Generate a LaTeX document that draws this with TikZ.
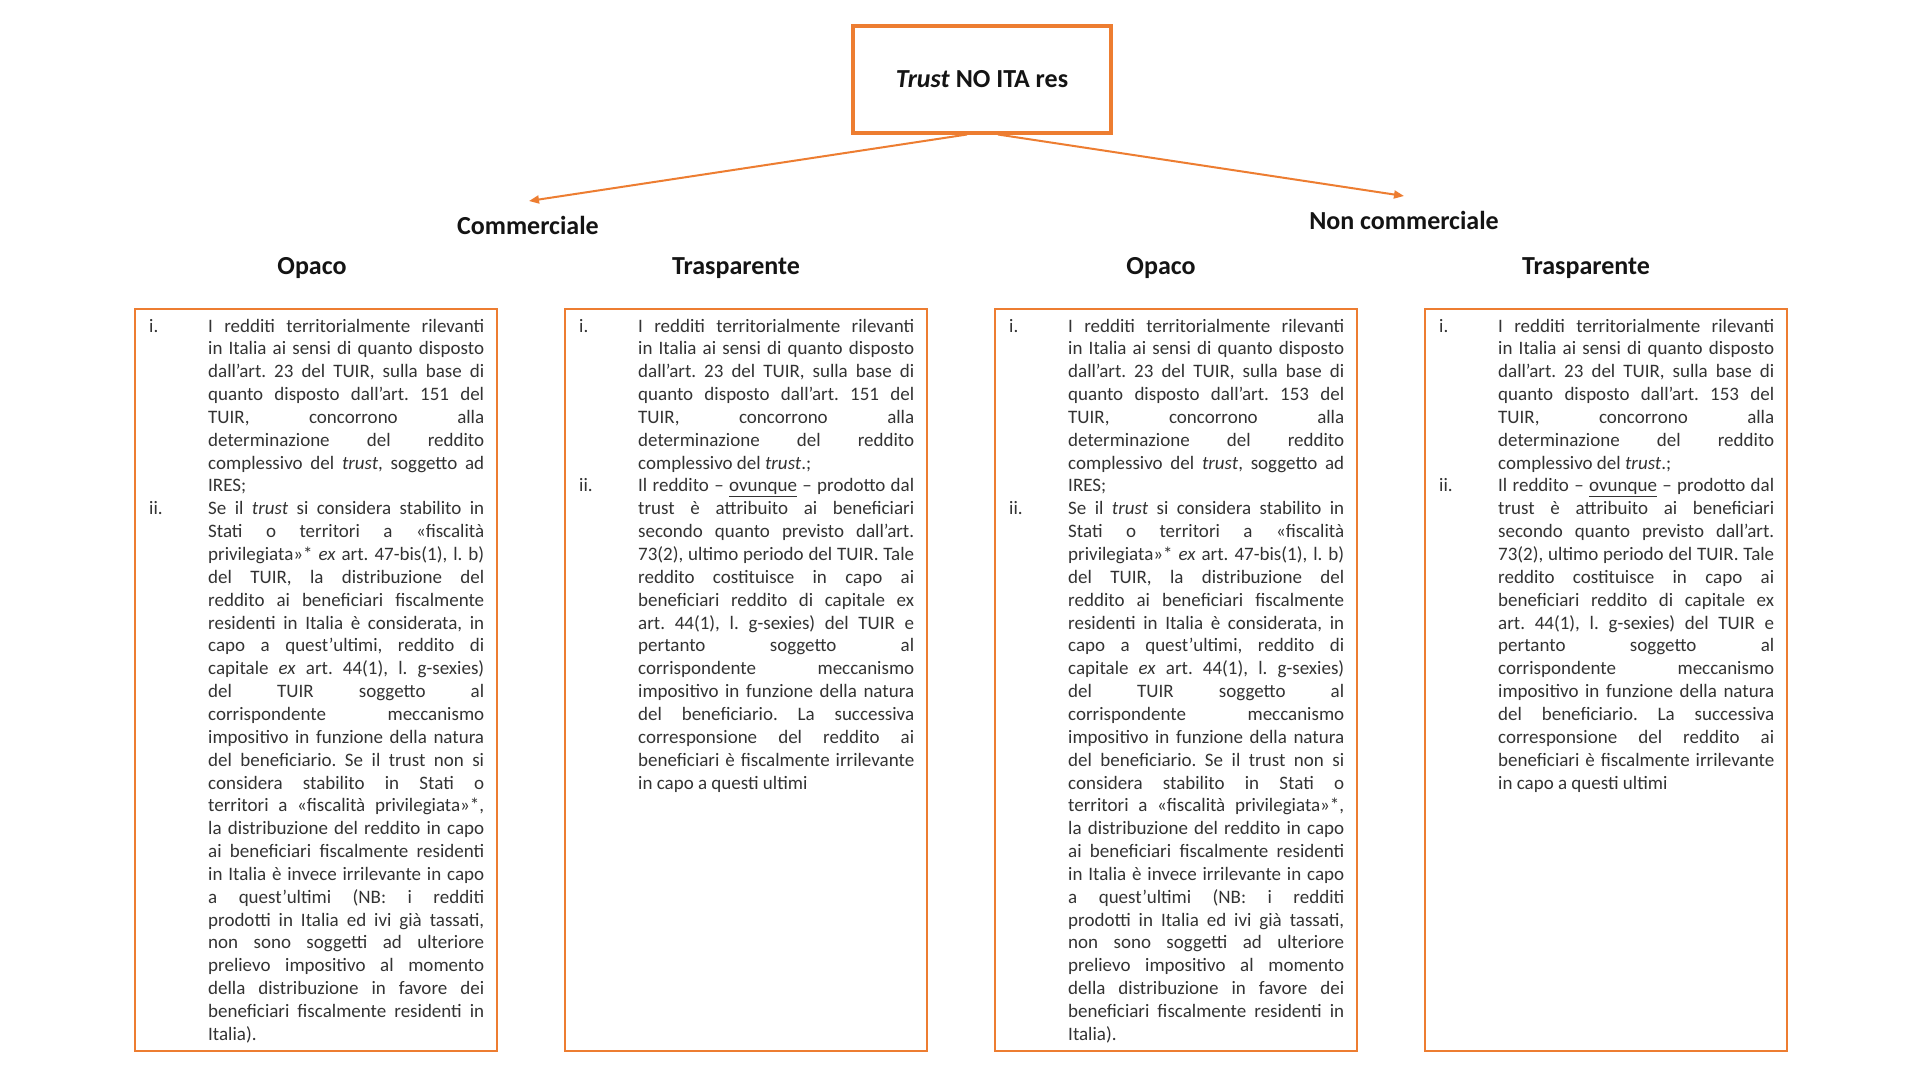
\documentclass[tikz,border=0pt]{standalone}
\usepackage{fontspec}
\setmainfont{Carlito}
\usetikzlibrary{arrows.meta}
\frenchspacing
\definecolor{orng}{HTML}{ED7D31}
\definecolor{bodyc}{HTML}{333333}
\definecolor{headc}{HTML}{141414}
\newcommand\jl[1]{\hbox to\hsize{#1}}
\newcommand\lastl[1]{\hbox to\hsize{#1\hfil}}
\newcommand\lab[1]{\llap{\hbox to 59pt{#1\hfil}}}
\newcommand\opacotext[1]{%
\jl{\lab{i.}I redditi territorialmente rilevanti}
\jl{in Italia ai sensi di quanto disposto}
\jl{dall’art. 23 del TUIR, sulla base di}
\jl{quanto disposto dall’art. #1 del}
\jl{TUIR, concorrono alla}
\jl{determinazione del reddito}
\jl{complessivo del \textit{trust}, soggetto ad}
\lastl{IRES;}
\jl{\lab{ii.}Se il \textit{trust} si considera stabilito in}
\jl{Stati o territori a «fiscalità}
\jl{privilegiata»* \textit{ex} art. 47-bis(1), l. b)}
\jl{del TUIR, la distribuzione del}
\jl{reddito ai beneficiari fiscalmente}
\jl{residenti in Italia è considerata, in}
\jl{capo a quest’ultimi, reddito di}
\jl{capitale \textit{ex} art. 44(1), l. g-sexies)}
\jl{del TUIR soggetto al}
\jl{corrispondente meccanismo}
\jl{impositivo in funzione della natura}
\jl{del beneficiario. Se il trust non si}
\jl{considera stabilito in Stati o}
\jl{territori a «fiscalità privilegiata»*,}
\jl{la distribuzione del reddito in capo}
\jl{ai beneficiari fiscalmente residenti}
\jl{in Italia è invece irrilevante in capo}
\jl{a quest’ultimi (NB: i redditi}
\jl{prodotti in Italia ed ivi già tassati,}
\jl{non sono soggetti ad ulteriore}
\jl{prelievo impositivo al momento}
\jl{della distribuzione in favore dei}
\jl{beneficiari fiscalmente residenti in}
\lastl{Italia).}}
\newcommand\trasptext[1]{%
\jl{\lab{i.}I redditi territorialmente rilevanti}
\jl{in Italia ai sensi di quanto disposto}
\jl{dall’art. 23 del TUIR, sulla base di}
\jl{quanto disposto dall’art. #1 del}
\jl{TUIR, concorrono alla}
\jl{determinazione del reddito}
\lastl{complessivo del \textit{trust}.;}
\jl{\lab{ii.}Il reddito – \underline{ovunque} – prodotto dal}
\jl{trust è attribuito ai beneficiari}
\jl{secondo quanto previsto dall’art.}
\jl{73(2), ultimo periodo del TUIR. Tale}
\jl{reddito costituisce in capo ai}
\jl{beneficiari reddito di capitale ex}
\jl{art. 44(1), l. g-sexies) del TUIR e}
\jl{pertanto soggetto al}
\jl{corrispondente meccanismo}
\jl{impositivo in funzione della natura}
\jl{del beneficiario. La successiva}
\jl{corresponsione del reddito ai}
\jl{beneficiari è fiscalmente irrilevante}
\lastl{in capo a questi ultimi}}
\begin{document}
\begin{tikzpicture}[x=1pt,y=-1pt,
  head/.style={font=\fontsize{26}{31}\selectfont\bfseries, text=headc, inner sep=0pt},
  topbox/.style={head, draw=orng, line width=4pt, minimum width=258pt, minimum height=107pt},
  cbox/.style={draw=orng, line width=2.8pt, minimum width=362pt, minimum height=742pt, inner sep=0pt},
  txt/.style={font=\fontsize{19}{22.85}\selectfont, text=bodyc, inner sep=0pt, anchor=base west},
  arr/.style={draw=orng, line width=2pt, -{Triangle[length=10pt,width=8pt]}}]
\useasboundingbox (0,0) rectangle (1920,1080);
\fill[white] (0,0) rectangle (1920,1080);
% top
\node[topbox] (top) at (982,79) {\textit{Trust} NO ITA res};
% level 1
\node[head] (comm) at (528,225) {Commerciale};
\node[head] (ncomm) at (1404,220) {Non commerciale};
\coordinate (commtip) at (529,201);
\coordinate (ncommtip) at (1404,196);
\draw[arr] ([xshift=-15pt]top.south) -- (commtip);
\draw[arr] ([xshift=16pt]top.south) -- (ncommtip);
% level 2 headings
\node[head] (op1) at (312,268) {Opaco};
\node[head] (tr1) at (736,268) {Trasparente};
\node[head] (op2) at (1161,268) {Opaco};
\node[head] (tr2) at (1586,268) {Trasparente};
% boxes
\node[cbox] (b1) at (316,680) {};
\node[cbox] (b2) at (746,680) {};
\node[cbox] (b3) at (1176,680) {};
\node[cbox] (b4) at (1606,680) {};
% texts
\node[txt] (t1) at (208,332) {\vtop{\hsize=276pt \opacotext{151}}};
\node[txt] (t2) at (638,332) {\vtop{\hsize=276pt \trasptext{151}}};
\node[txt] (t3) at (1068,332) {\vtop{\hsize=276pt \opacotext{153}}};
\node[txt] (t4) at (1498,332) {\vtop{\hsize=276pt \trasptext{153}}};
\end{tikzpicture}
\end{document}
